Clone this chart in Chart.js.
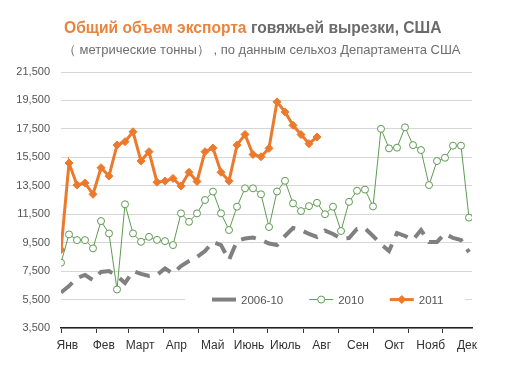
<!DOCTYPE html>
<html>
<head>
<meta charset="utf-8">
<script src="https://cdn.jsdelivr.net/npm/chart.js@4"></script>
<style>
  body { margin: 0; background: #fff; }
  #wrap { position: relative; width: 511px; height: 377px; }
  #title { position: absolute; left: 64px; top: 19px; font: bold 15.6px "Liberation Sans", Arial, sans-serif; color: #6b6b6b; white-space: nowrap; }
  #title span { color: #e8843c; }
  #sub { position: absolute; left: 63px; top: 41px; font: 13px "Liberation Sans", Arial, sans-serif; color: #6e6e6e; white-space: nowrap; }
  canvas { position: absolute; left: 0; top: 0; }
</style>
</head>
<body>
<div id="wrap">
  <canvas id="chart" width="511" height="377"></canvas>
  <div id="title"><span>Общий объем экспорта</span> говяжьей вырезки, США</div>
  <div id="sub">（ метрические тонны）  , по данным сельхоз Департамента США</div>
</div>
<script>
var months = ['Янв', 'Фев', 'Март', 'Апр', 'Май', 'Июнь', 'Июль', 'Авг', 'Сен', 'Окт', 'Нояб', 'Дек'];
var monthStartDay = [0, 31, 59, 90, 120, 151, 181, 212, 243, 273, 304, 334];
var seriesNames = ['2006-10', '2010', '2011'];

// weekly export volume, metric tons
var avg2006_10 = [6000, 6450, 7020, 7230, 6870, 7440, 7500, 7160, 6660, 7500,
                  7300, 7160, 7230, 7680, 7330, 7860, 8210, 8490, 8910, 9550,
                  9330, 8280, 9620, 9790, 9860, 9690, 9440, 9330, 9970, 10530,
                  10390, 10110, 9900, 10350, 10110, 9790, 9830, 10460, 10510, 9970,
                  9400, 8910, 10180, 9970, 9690, 10390, 9550, 9550, 10140, 9830,
                  9690, 8840];
var y2010 = [8090, 10080, 9680, 9680, 9100, 11020, 10150, 6210, 12200, 10150,
             9560, 9910, 9700, 9610, 9330, 11560, 10970, 11560, 12500, 13090,
             11560, 10390, 12030, 13320, 13320, 12900, 10600, 13100, 13850, 12260,
             11720, 12070, 12300, 11500, 12030, 10320, 12370, 13150, 13230, 12050,
             17500, 16130, 16180, 17610, 16360, 16010, 13550, 15240, 15470, 16320,
             16320, 11260];
var y2011 = [9000, 15100, 13550, 13700, 12900, 14770, 14180, 16360, 16600, 17300,
             15240, 15900, 13750, 13830, 14020, 13480, 14450, 13800, 15900, 16150,
             14450, 13830, 16360, 17110, 15700, 15540, 16130, 19400, 18690, 17750,
             17100, 16460, 16930];

var xMax = 51.375;

function toPoints(arr) {
    return arr.map(function (v, i) { return { x: i, y: v }; });
}

var gray = '#808080';
var green = '#5f9a52';
var orange = '#ec7a2c';

// legend drawn inside the plot, over a white box
var insideLegend = {
    id: 'insideLegend',
    beforeDatasetsDraw: function (chart) {
        var c = chart.ctx;
        var area = chart.chartArea;
        var yMid = chart.scales.y.getPixelForValue(5500);
        c.save();
        c.fillStyle = '#fff';
        c.fillRect(area.left + 124, yMid - 11, 280, 22);
        c.font = '11.5px "Liberation Sans", Arial, sans-serif';
        c.textBaseline = 'middle';
        var x = area.left + 151;
        chart.data.datasets.forEach(function (ds) {
            c.strokeStyle = ds.borderColor;
            c.lineWidth = ds.borderWidth;
            c.beginPath();
            c.moveTo(x, yMid);
            c.lineTo(x + 24, yMid);
            c.stroke();
            if (ds.pointRadius > 0) {
                var r = ds.pointRadius;
                c.fillStyle = ds.pointBackgroundColor;
                c.strokeStyle = ds.pointBorderColor;
                c.lineWidth = ds.pointBorderWidth;
                c.beginPath();
                if (ds.pointStyle === 'circle') {
                    c.arc(x + 12, yMid, r, 0, Math.PI * 2);
                } else {
                    c.moveTo(x + 12, yMid - r); c.lineTo(x + 12 + r, yMid);
                    c.lineTo(x + 12, yMid + r); c.lineTo(x + 12 - r, yMid);
                    c.closePath();
                }
                c.fill();
                c.stroke();
            }
            c.fillStyle = '#555';
            c.fillText(ds.label, x + 29, yMid + 1);
            x += 29 + c.measureText(ds.label).width + 26;
        });
        c.restore();
    }
};

var ctx = document.getElementById('chart').getContext('2d');
var chart = new Chart(ctx, {
    type: 'line',
    data: {
        datasets: [{
            label: seriesNames[0],
            data: toPoints(avg2006_10),
            borderColor: gray,
            borderWidth: 4,
            borderDash: [15, 9],
            pointRadius: 0,
            tension: 0
        }, {
            label: seriesNames[1],
            data: toPoints(y2010),
            borderColor: green,
            borderWidth: 1,
            pointStyle: 'circle',
            pointRadius: 3.5,
            pointBackgroundColor: '#fff',
            pointBorderColor: green,
            pointBorderWidth: 1,
            tension: 0
        }, {
            label: seriesNames[2],
            data: toPoints(y2011),
            borderColor: orange,
            borderWidth: 3,
            pointStyle: 'rectRot',
            pointRadius: 4,
            pointBackgroundColor: orange,
            pointBorderColor: orange,
            pointBorderWidth: 1,
            tension: 0
        }]
    },
    options: {
        responsive: false,
        animation: false,
        layout: { padding: { left: 0, right: 39, top: 72, bottom: 0 } },
        plugins: { legend: { display: false }, tooltip: { enabled: false } },
        scales: {
            x: {
                type: 'linear', position: 'bottom', weight: 0,
                min: 0, max: xMax,
                grid: { drawOnChartArea: false, drawTicks: true, tickLength: 5, color: '#333', lineWidth: 1 },
                border: { color: '#222', width: 1.5 },
                ticks: { display: false, autoSkip: false },
                afterBuildTicks: function (scale) {
                    scale.ticks = monthStartDay.map(function (d) { return { value: d / 7 }; });
                },
                afterFit: function (scale) { scale.height = 5; }
            },
            xl: {
                type: 'linear', position: 'bottom', weight: 1,
                min: 0, max: xMax,
                grid: { display: false, drawTicks: false },
                border: { display: false },
                ticks: {
                    autoSkip: false, maxRotation: 0, padding: 5,
                    color: '#333',
                    font: { family: '"Liberation Sans", Arial, sans-serif', size: 12 },
                    callback: function (v, i) { return months[i]; }
                },
                afterBuildTicks: function (scale) {
                    scale.ticks = months.map(function (m, i) { return { value: 0.8 + i * (50.75 - 0.8) / 11 }; });
                },
                afterFit: function (scale) { scale.height = 44; }
            },
            y: {
                min: 3500, max: 21500,
                grid: { color: '#d6d6d6', lineWidth: 1, drawTicks: false },
                border: { display: false },
                ticks: {
                    stepSize: 2000, padding: 11, color: '#555',
                    font: { family: '"Liberation Sans", Arial, sans-serif', size: 11 },
                    callback: function (v) { return v.toLocaleString('en-US'); }
                },
                afterFit: function (scale) { scale.width = 61; }
            }
        }
    },
    plugins: [insideLegend]
});
</script>
</body>
</html>
